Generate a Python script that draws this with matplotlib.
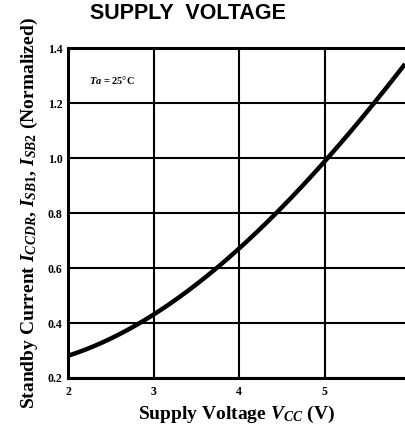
import matplotlib.pyplot as plt
import numpy as np

plt.rcParams['font.family'] = ['Liberation Serif', 'DejaVu Serif']
plt.rcParams['mathtext.fontset'] = 'custom'
plt.rcParams['mathtext.rm'] = 'Liberation Serif:bold'
plt.rcParams['mathtext.it'] = 'Liberation Serif:italic:bold'
plt.rcParams['mathtext.bf'] = 'Liberation Serif:bold'

# curve
vcc = [2.0, 2.5, 2.84, 3.0, 3.5, 3.74, 4.0, 4.44, 5.0, 5.57, 5.94]
i_sb = [0.276, 0.35, 0.40, 0.441, 0.538, 0.60, 0.659, 0.80, 1.0, 1.20, 1.338]

x_ticks = [2, 3, 4, 5]
y_ticks = [0.2, 0.4, 0.6, 0.8, 1.0, 1.2, 1.4]
y_labels = ['0.2', '0.4', '0.6', '0.8', '1.0', '1.2', '1.4']

fig = plt.figure(figsize=(4.05, 4.25), dpi=100)
ax = fig.add_axes([0.1686, 0.1106, 0.8314, 0.7758])

# smooth the read points a bit
xs = np.linspace(vcc[0], vcc[-1], 200)
coef = np.polyfit(vcc, i_sb, 3)
ax.plot(xs, np.polyval(coef, xs), color='black', lw=3.2, solid_capstyle='butt', zorder=3)

ax.set_xlim(2, 5.94)
ax.set_ylim(0.2, 1.4)
ax.set_xticks(x_ticks)
ax.set_xticklabels([str(t) for t in x_ticks], fontweight='bold', fontsize=8.5)
ax.set_yticks(y_ticks)
ax.set_yticklabels(y_labels, fontweight='bold', fontsize=8.5)
ax.tick_params(length=0, pad=4)
ax.tick_params(axis='x', pad=6)
ax.grid(True, color='black', lw=1.5)
for s in ['left', 'bottom', 'top']:
    ax.spines[s].set_linewidth(2.2)
ax.spines['right'].set_visible(False)

ax.text(2.24, 1.285, r'$Ta$ = 25°C', fontsize=7.5, fontweight='bold', va='center')

ax.set_xlabel(r'Supply Voltage $V_{CC}$ (V)', fontsize=14, fontweight='bold', labelpad=4)
ax.set_ylabel(r'Standby Current $I_{CCDR}$, $I_{SB1}$, $I_{SB2}$ (Normalized)',
              fontsize=14, fontweight='bold', labelpad=6)

fig.text(0.465, 0.955, 'SUPPLY  VOLTAGE', fontsize=15.5, fontweight='bold',
         family='Liberation Sans', ha='center', va='baseline')

fig.savefig('out.png', dpi=100)
